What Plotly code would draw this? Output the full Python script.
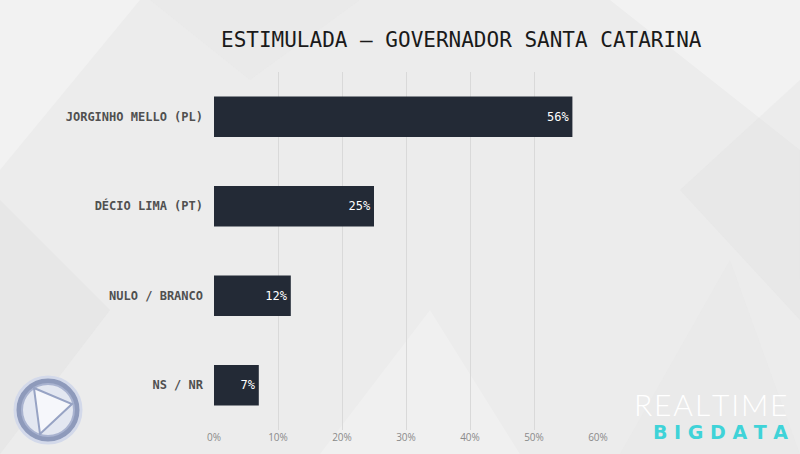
import re
import plotly.graph_objects as go

categories = ["JORGINHO MELLO (PL)", "DÉCIO LIMA (PT)", "NULO / BRANCO", "NS / NR"]
values = [56, 25, 12, 7]
value_labels = ["56%", "25%", "12%", "7%"]
tick_vals = [0, 10, 20, 30, 40, 50, 60]
tick_text = ["0%", "10%", "20%", "30%", "40%", "50%", "60%"]

W, H = 800, 454
L, R, T, B = 214, 202, 72, 24


def pc(x, y):
    return (x - L) / (W - L - R), 1 - (y - T) / (H - T - B)


fig = go.Figure(go.Bar(
    x=values, y=categories, orientation="h",
    marker=dict(color="#232a36", line=dict(width=0)),
    width=0.45,
    text=value_labels, textposition="inside", insidetextanchor="end",
    textfont=dict(family="DejaVu Sans Mono", size=12, color="#ffffff"),
    hoverinfo="skip",
))

shapes = []
polys = [
    ("M0,0 L140,0 L0,170 Z", "rgba(255,255,255,0.30)"),
    ("M0,200 L110,310 L0,454 Z", "rgba(215,215,215,0.25)"),
    ("M610,0 L800,0 L800,150 Z", "rgba(255,255,255,0.35)"),
    ("M680,190 L800,80 L800,320 Z", "rgba(220,220,220,0.25)"),
    ("M620,454 L730,260 L800,454 Z", "rgba(228,228,228,0.30)"),
    ("M320,454 L430,310 L520,454 Z", "rgba(255,255,255,0.22)"),
    ("M150,0 L360,0 L250,80 Z", "rgba(230,230,230,0.30)"),
]


def conv(m):
    px, py = pc(float(m.group(1)), float(m.group(2)))
    return f"{px:.4f},{py:.4f}"


for p, c in polys:
    shapes.append(dict(type="path", xref="paper", yref="paper",
                       path=re.sub(r"([\d.]+),([\d.]+)", conv, p),
                       fillcolor=c, line=dict(width=0), layer="below"))

# left logo (circle emblem)
cx, cy, r = 48, 410, 33
x0, y1 = pc(cx - r, cy - r); x1, y0 = pc(cx + r, cy + r)
shapes.append(dict(type="circle", xref="paper", yref="paper", x0=x0, y0=y0, x1=x1, y1=y1,
                   fillcolor="#8e9abb", line=dict(color="#d3d9ea", width=3)))
r2 = 26
x0, y1 = pc(cx - r2, cy - r2); x1, y0 = pc(cx + r2, cy + r2)
shapes.append(dict(type="circle", xref="paper", yref="paper", x0=x0, y0=y0, x1=x1, y1=y1,
                   fillcolor="#e3e7f1", line=dict(color="#a9b3d0", width=2)))
tri = [(34, 388), (72, 404), (40, 434)]
path = "M" + " L".join(f"{pc(a,b)[0]:.4f},{pc(a,b)[1]:.4f}" for a, b in tri) + " Z"
shapes.append(dict(type="path", xref="paper", yref="paper", path=path,
                   fillcolor="#f6f7fb", line=dict(color="#97a3c4", width=2)))

hs = "\u200a"
annotations = [
    dict(text="ESTIMULADA — GOVERNADOR SANTA CATARINA", xref="paper", yref="paper",
         x=pc(461, 40)[0], y=pc(461, 40)[1], xanchor="center", yanchor="middle", showarrow=False,
         font=dict(family="DejaVu Sans Mono", size=21, color="#1a1a1a")),
    dict(text=hs.join("REALTIME"), xref="paper", yref="paper",
         x=pc(789, 404)[0], y=pc(789, 404)[1], xanchor="right", yanchor="middle", showarrow=False,
         font=dict(family="Lato", size=30, color="#ffffff", weight=300)),
    dict(text="<b>" + " ".join("BIGDATA") + "</b>", xref="paper", yref="paper",
         x=pc(790, 432)[0], y=pc(790, 432)[1], xanchor="right", yanchor="middle", showarrow=False,
         font=dict(family="DejaVu Sans", size=19, color="#3fd3d8")),
]

fig.update_layout(
    width=W, height=H,
    margin=dict(l=L, r=R, t=T, b=B, autoexpand=False),
    paper_bgcolor="#ececec", plot_bgcolor="rgba(0,0,0,0)",
    showlegend=False,
    shapes=shapes, annotations=annotations,
    xaxis=dict(range=[0, 60], tickvals=tick_vals, ticktext=tick_text,
               showgrid=True, gridcolor="#d9d9d9", gridwidth=1, zeroline=False,
               showline=False, ticks="", fixedrange=True,
               tickfont=dict(family="Open Sans", size=10, color="#8a8a8a")),
    yaxis=dict(autorange="reversed", showgrid=False, zeroline=False, showline=False,
               ticks="", ticklabelstandoff=10,
               tickfont=dict(family="DejaVu Sans Mono", size=12, color="#505050", weight="bold")),
    bargap=0.55,
)
fig.write_html("out.html", config={"displayModeBar": False},
               post_script="document.body.style.margin='0';document.body.style.overflow='hidden';")
